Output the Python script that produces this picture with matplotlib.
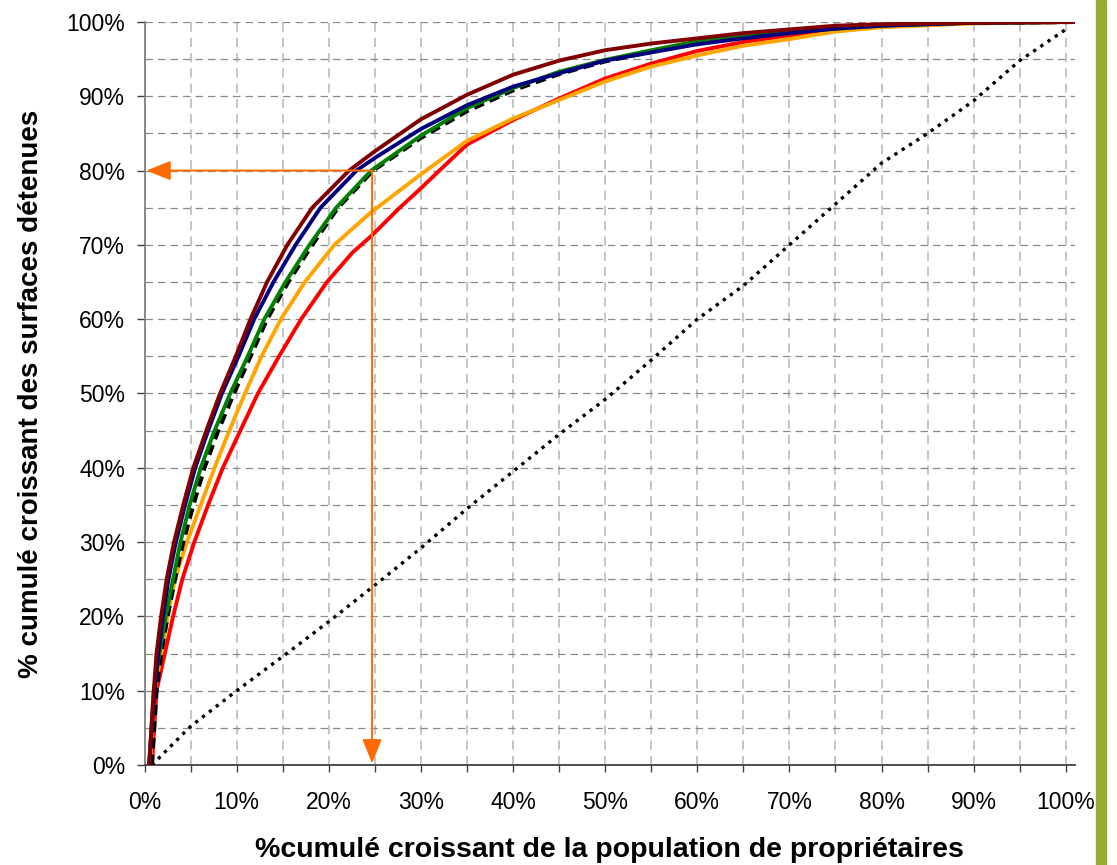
import matplotlib
matplotlib.use('Agg')
import matplotlib.pyplot as plt
from matplotlib.ticker import MultipleLocator, PercentFormatter

plt.rcParams['font.family'] = ['Liberation Sans', 'DejaVu Sans']

# Lorenz-type curves: x = % cumulé population, y = % cumulé surfaces
darkred_x = [0.5, 1.0, 1.3, 1.8, 2.4, 3.2, 4.2, 5.3, 6.7, 8.2, 9.9, 11.5, 13.3, 15.5, 18.2, 22.2, 25.0, 30.0, 35.0, 40.0, 45.0, 50.0, 55.0, 60.0, 65.0, 70.0, 75.0, 80.0, 90.0, 101.0]
darkred_y = [0, 10, 15, 20, 25, 30, 35, 40, 45, 50, 55, 60, 65, 70, 75, 80, 82.6, 86.9, 90.2, 92.9, 94.8, 96.2, 97.1, 97.8, 98.5, 99.0, 99.5, 99.7, 99.9, 100]

navy_x = [0.5, 1.1, 1.5, 2.0, 2.6, 3.4, 4.4, 5.5, 6.9, 8.4, 10.2, 11.9, 14.0, 16.4, 19.1, 23.0, 25.0, 30.0, 35.0, 40.0, 45.0, 50.0, 55.0, 60.0, 65.0, 70.0, 75.0, 80.0, 90.0, 101.0]
navy_y = [0, 10, 15, 20, 25, 30, 35, 40, 45, 50, 55, 60, 65, 70, 75, 80, 81.7, 85.6, 88.8, 91.3, 93.1, 94.8, 95.9, 97.0, 97.8, 98.5, 99.1, 99.5, 99.9, 100]

green_x = [0.5, 1.0, 1.6, 2.3, 3.1, 3.9, 4.9, 6.1, 7.6, 9.3, 11.2, 13.0, 15.3, 17.9, 20.8, 24.6, 30.0, 35.0, 40.0, 45.0, 50.0, 55.0, 60.0, 65.0, 70.0, 75.0, 80.0, 90.0, 101.0]
green_y = [0, 10, 15, 20, 25, 30, 35, 40, 45, 50, 55, 60, 65, 70, 75, 80, 84.7, 88.4, 91.1, 93.3, 94.9, 96.2, 97.4, 98.1, 98.7, 99.1, 99.5, 99.9, 100]

dashed_x = [0.8, 1.3, 1.8, 2.5, 3.3, 4.2, 5.3, 6.5, 8.0, 9.7, 11.5, 13.3, 15.6, 18.2, 21.0, 24.8, 30.0, 35.0, 40.0, 45.0, 50.0, 55.0, 60.0, 65.0, 70.0, 75.0, 80.0, 90.0, 101.0]
dashed_y = [0, 10, 15, 20, 25, 30, 35, 40, 45, 50, 55, 60, 65, 70, 75, 80, 84.4, 88.0, 90.8, 93.0, 94.7, 96.0, 97.2, 98.0, 98.6, 99.2, 99.6, 99.9, 100]

orange_x = [0.6, 1.1, 1.8, 2.5, 3.3, 4.6, 6.1, 7.6, 9.2, 10.9, 12.7, 14.8, 17.4, 20.6, 24.5, 30.0, 35.0, 40.0, 45.0, 50.0, 55.0, 60.0, 65.0, 70.0, 75.0, 80.0, 90.0, 101.0]
orange_y = [0, 10, 15, 20, 25, 30, 35, 40, 45, 50, 55, 60, 65, 70, 74.3, 79.5, 84.0, 87.0, 89.5, 92.0, 94.0, 95.5, 96.8, 97.7, 98.7, 99.3, 99.8, 100]

red_x = [0.8, 1.3, 2.2, 3.1, 4.1, 5.4, 6.9, 8.5, 10.4, 12.3, 14.6, 17.0, 19.8, 22.6, 24.7, 27.7, 29.9, 32.0, 35.0, 40.0, 45.0, 50.0, 55.0, 60.0, 65.0, 70.0, 75.0, 80.0, 90.0, 101.0]
red_y = [0, 10, 15, 20, 25, 30, 35, 40, 45, 50, 55, 60, 65, 69, 71.3, 75.0, 77.5, 80.0, 83.5, 86.8, 89.7, 92.4, 94.4, 96.1, 97.3, 98.2, 99.0, 99.5, 99.9, 100]

# equal-distribution reference line (dotted)
equal_x = [0.8, 5, 10, 15, 20, 25, 30, 35, 40, 45, 50, 55, 60, 65, 70, 75, 80, 85, 90, 95, 100]
equal_y = [0, 5.2, 10, 14.6, 19.3, 24.2, 29.2, 34.5, 39.5, 44.5, 49.2, 54.5, 60.0, 64.5, 70.0, 75.5, 81.0, 85.0, 89.4, 94.8, 99.0]

# reading guide: 25% of owners -> 80% of surfaces
guide_x = 24.7
guide_y = 80

fig = plt.figure(figsize=(11.17, 8.65), dpi=100)
ax = fig.add_axes([0.1294, 0.1156, 0.8330, 0.8590])

# green bar on the right edge
fig.patches.append(plt.Rectangle((1096 / 1117, 0), 10 / 1117, 1, transform=fig.transFigure,
                                 color='#97AB33', zorder=-1))

ax.plot(equal_x, equal_y, color='black', lw=2.4, ls=(0, (1.0, 1.6)), zorder=3)
ax.plot(red_x, red_y, color='#FF0000', lw=2.8, zorder=4)
ax.plot(orange_x, orange_y, color='#FFA500', lw=2.8, zorder=4)
ax.plot(dashed_x, dashed_y, color='black', lw=3.0, ls=(0, (2.5, 1.5)), zorder=4)
ax.plot(green_x, green_y, color='#008000', lw=2.8, zorder=5)
ax.plot(navy_x, navy_y, color='#000080', lw=2.8, zorder=5)
ax.plot(darkred_x, darkred_y, color='#800000', lw=2.8, zorder=6)

# orange arrows
arrow_col = '#FF6A00'
arrow_style = '-|>,head_length=1.5,head_width=0.6'
ax.annotate('', xy=(0.2, guide_y), xytext=(guide_x, guide_y),
            arrowprops=dict(arrowstyle=arrow_style, color=arrow_col, lw=1.4,
                            shrinkA=0, shrinkB=0), zorder=7)
ax.annotate('', xy=(guide_x, 0.2), xytext=(guide_x, guide_y),
            arrowprops=dict(arrowstyle=arrow_style, color=arrow_col, lw=1.4,
                            shrinkA=0, shrinkB=0), zorder=7)

ax.set_xlim(0, 101)
ax.set_ylim(0, 100)
ax.xaxis.set_major_locator(MultipleLocator(10))
ax.xaxis.set_minor_locator(MultipleLocator(5))
ax.yaxis.set_major_locator(MultipleLocator(10))
ax.yaxis.set_minor_locator(MultipleLocator(5))
ax.xaxis.set_major_formatter(PercentFormatter(decimals=0))
ax.yaxis.set_major_formatter(PercentFormatter(decimals=0))

# horizontal grid darker, vertical grid lighter (as in the source)
ax.yaxis.grid(True, which='both', color='#8a8a8a', ls=(0, (6, 4)), lw=0.9)
ax.xaxis.grid(True, which='both', color='#b5b5b5', ls=(0, (6, 4)), lw=1.1)
ax.set_axisbelow(True)

for s in ['top', 'right']:
    ax.spines[s].set_visible(False)
ax.spines['left'].set_color('#808080')
ax.spines['bottom'].set_color('#404040')
ax.spines['left'].set_linewidth(1.3)
ax.spines['bottom'].set_linewidth(1.3)

ax.tick_params(axis='x', which='both', length=5, width=1, color='#404040', labelsize=16.5, pad=14)
ax.tick_params(axis='y', which='major', length=6, width=1, color='#404040', labelsize=16.5, pad=8)
ax.tick_params(axis='y', which='minor', length=0)

ax.set_xlabel('%cumulé croissant de la population de propriétaires', fontsize=20.5, fontweight='bold',
              labelpad=16)
ax.set_ylabel('% cumulé croissant des surfaces détenues', fontsize=20, fontweight='bold', labelpad=16)

fig.savefig('out.png', dpi=100)
